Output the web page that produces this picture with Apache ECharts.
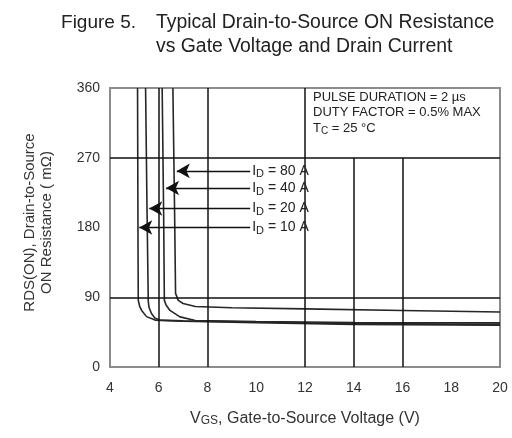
<!DOCTYPE html>
<html>
<head>
<meta charset="utf-8">
<script src="https://cdn.jsdelivr.net/npm/echarts@6.0.0/dist/echarts.min.js"></script>
<style>
  html, body { margin: 0; padding: 0; background: #fff; }
  #main { width: 512px; height: 438px; }
</style>
</head>
<body>
<div id="main"></div>
<script>
// RDS(ON) vs VGS curves
var vgs10 = [5.13, 5.15, 5.16, 5.22, 5.3, 5.5, 5.85, 7, 10, 14, 20];
var r10   = [360, 150, 86, 78, 73, 65, 60.5, 59, 57, 55, 54];
var vgs20 = [5.46, 5.52, 5.57, 5.6, 5.7, 5.85, 6.05, 7, 10, 14, 20];
var r20   = [360, 200, 85, 77, 69, 63, 60.5, 59.5, 58, 56, 55];
var vgs40 = [6.14, 6.2, 6.23, 6.3, 6.46, 6.87, 7.5, 10, 14, 20];
var r40   = [360, 200, 86, 80, 73, 64.7, 60, 58.5, 57.5, 57];
var vgs80 = [6.58, 6.65, 6.69, 6.8, 7.0, 7.5, 9, 12, 16, 20];
var r80   = [360, 200, 95, 86, 82, 78, 76.5, 75, 73, 71];

// arrow annotations (ID labels)
var idNames = ['80 A', '40 A', '20 A', '10 A'];
var arrowTipV = [6.74, 6.3, 5.61, 5.2];
var arrowR = [253, 231, 204.5, 180];
var arrowEndV = 9.75;

// grid lines drawn on the figure
var gridFullX = [6, 8, 12];
var gridShortX = [14, 16];
var gridY = [90, 270];

function zip(xs, ys) {
  return xs.map(function (x, i) { return [x, ys[i]]; });
}

var gridLines = [];
gridFullX.forEach(function (v) {
  gridLines.push([{ coord: [v, 0] }, { coord: [v, 360] }]);
});
gridShortX.forEach(function (v) {
  gridLines.push([{ coord: [v, 0] }, { coord: [v, 270] }]);
});
gridY.forEach(function (r) {
  gridLines.push([{ coord: [4, r] }, { coord: [20, r] }]);
});

var arrows = idNames.map(function (n, i) {
  return [
    { name: n, coord: [arrowTipV[i], arrowR[i]], symbol: 'arrow', symbolSize: [11, 13] },
    { coord: [arrowEndV, arrowR[i]], symbol: 'none' }
  ];
});

var curveStyle = { color: '#262626', width: 1.6 };
var font = 'Liberation Sans';

var myChart = echarts.init(document.getElementById('main'));
var option = {
  backgroundColor: '#fff',
  animation: false,
  grid: {
    left: 110, right: 12, top: 88, bottom: 71,
    show: true, borderColor: '#8c8c8c', borderWidth: 2
  },
  xAxis: {
    type: 'value', min: 4, max: 20, interval: 2,
    axisLine: { show: true, lineStyle: { color: '#8c8c8c', width: 2 } },
    axisTick: { show: false },
    splitLine: { show: false },
    axisLabel: { color: '#333', fontSize: 14, margin: 14, fontFamily: font },
    name: 'V{s|GS}, Gate-to-Source Voltage (V)',
    nameLocation: 'middle',
    nameGap: 44,
    nameTextStyle: {
      color: '#333', fontSize: 16, fontFamily: font,
      rich: { s: { fontSize: 12, verticalAlign: 'bottom', lineHeight: 12, fontFamily: font } }
    }
  },
  yAxis: {
    type: 'value', min: 0, max: 360, interval: 90,
    axisLine: { show: true, lineStyle: { color: '#8c8c8c', width: 2 } },
    axisTick: { show: false },
    splitLine: { show: false },
    axisLabel: { color: '#333', fontSize: 14, margin: 10, fontFamily: font },
    name: 'RDS(ON), Drain-to-Source\nON Resistance ( m\u03a9)',
    nameLocation: 'middle',
    nameGap: 55,
    nameTextStyle: { color: '#333', fontSize: 15, lineHeight: 17, fontFamily: font, padding: [0, 0, 0, 10] }
  },
  series: [
    {
      name: '10 A', type: 'line', data: zip(vgs10, r10), showSymbol: false,
      lineStyle: curveStyle, z: 3,
      markLine: {
        silent: true, symbol: 'none', animation: false,
        label: { show: false },
        lineStyle: { color: '#111', width: 1.5, type: 'solid' },
        data: gridLines
      }
    },
    { name: '20 A', type: 'line', data: zip(vgs20, r20), showSymbol: false, lineStyle: curveStyle, z: 3 },
    { name: '40 A', type: 'line', data: zip(vgs40, r40), showSymbol: false, lineStyle: curveStyle, z: 3 },
    {
      name: '80 A', type: 'line', data: zip(vgs80, r80), showSymbol: false,
      lineStyle: curveStyle, z: 4,
      markLine: {
        silent: true, animation: false,
        lineStyle: { color: '#111', width: 1.3, type: 'solid' },
        label: {
          show: true, position: 'end', distance: 2,
          color: '#222', fontSize: 14, fontFamily: font, lineHeight: 18,
          formatter: function (p) { return 'I{s|D} = ' + p.name; },
          rich: { s: { fontSize: 11, lineHeight: 11, verticalAlign: 'bottom', fontFamily: font, color: '#222' } }
        },
        data: arrows
      }
    }
  ],
  graphic: [
    { type: 'text', x: 136, y: 13, style: { text: 'Figure 5.', align: 'right', fontSize: 19, fontFamily: font, fill: '#222' } },
    { type: 'text', x: 156, y: 13, style: { text: 'Typical Drain-to-Source ON Resistance', fontSize: 19.4, fontFamily: font, fill: '#222' } },
    { type: 'text', x: 156, y: 37, style: { text: 'vs Gate Voltage and Drain Current', fontSize: 19.4, fontFamily: font, fill: '#222' } },
    { type: 'text', left: 313, top: 91, style: { text: 'PULSE DURATION = 2 \u00b5s', fontSize: 13, fontFamily: font, fill: '#222' } },
    { type: 'text', left: 313, top: 106, style: { text: 'DUTY FACTOR = 0.5% MAX', fontSize: 13, fontFamily: font, fill: '#222' } },
    {
      type: 'text', left: 313, top: 120,
      style: {
        text: 'T{s|C} = 25 \u00b0C', fontSize: 13, fontFamily: font, fill: '#222', lineHeight: 16,
        rich: { s: { fontSize: 10, lineHeight: 10, verticalAlign: 'bottom', fontFamily: font, fill: '#222' } }
      }
    }
  ]
};
myChart.setOption(option);
</script>
</body>
</html>
